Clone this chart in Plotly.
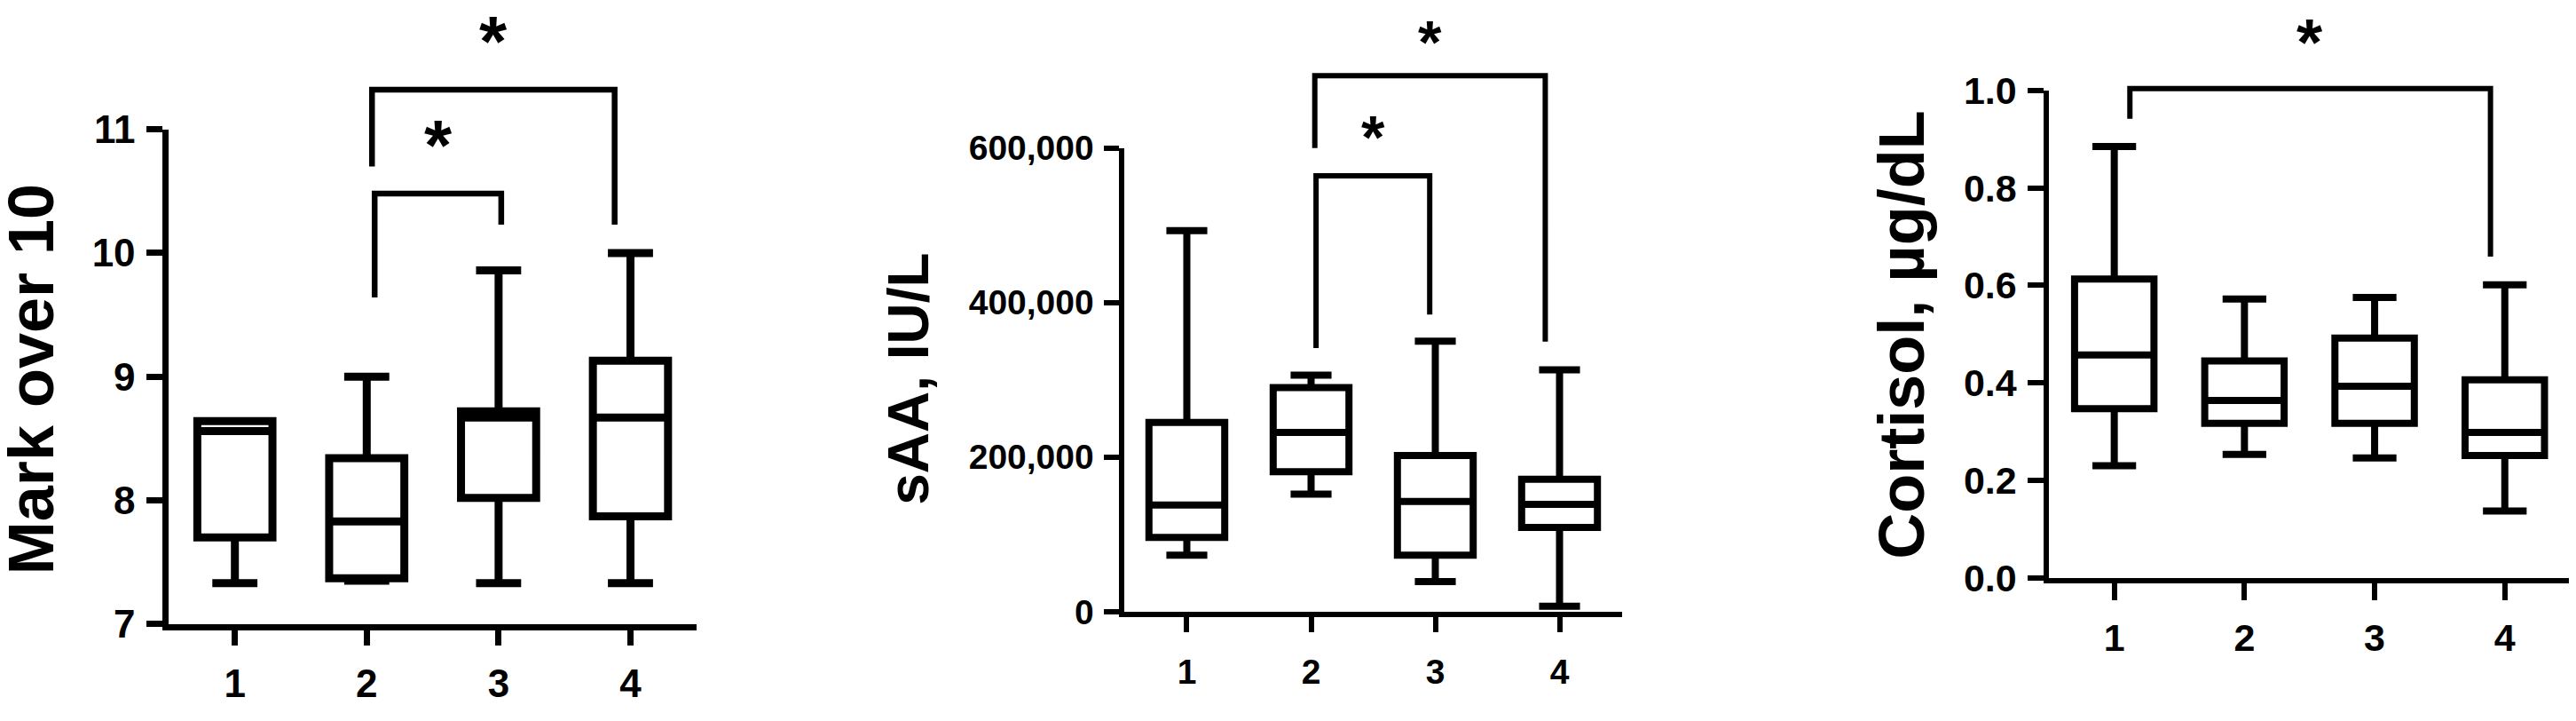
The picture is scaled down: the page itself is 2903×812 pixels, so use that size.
import plotly.graph_objects as go

grupos = [1, 2, 3, 4]

# Painel 1 - Mark over 10 (estatísticas das caixas)
nota_min = [7.33, 7.35, 7.33, 7.33]
nota_q1 = [7.70, 7.37, 8.02, 7.87]
nota_med = [8.56, 7.83, 8.67, 8.67]
nota_q3 = [8.64, 8.34, 8.72, 9.13]
nota_max = [8.64, 9.00, 9.86, 10.00]

# Painel 2 - sAA, IU/L
saa_min = [73000, 152000, 39000, 7000]
saa_q1 = [96000, 181000, 73000, 109000]
saa_med = [138000, 232000, 142500, 139000]
saa_q3 = [245000, 290000, 202000, 171500]
saa_max = [493000, 306000, 350000, 313000]

# Painel 3 - Cortisol, µg/dL
cort_min = [0.230, 0.253, 0.246, 0.137]
cort_q1 = [0.347, 0.317, 0.317, 0.251]
cort_med = [0.457, 0.364, 0.393, 0.298]
cort_q3 = [0.613, 0.445, 0.492, 0.406]
cort_max = [0.885, 0.572, 0.575, 0.601]

# Colchetes de significância: (x esq, x dir, y perna esq, y perna dir, y topo, y estrela)
sig_nota = [(2.04, 3.88, 10.70, 10.23, 11.32, 11.57),
            (2.06, 3.02, 9.64, 10.23, 10.48, 10.73)]
sig_saa = [(2.03, 3.885, 600000, 349600, 693600, 717500),
           (2.04, 2.955, 341000, 384600, 564000, 595000)]
sig_cort = [(1.12, 3.89, 0.942, 0.659, 1.004, 1.067)]

FONTE = "Liberation Sans, Arial, sans-serif"

paineis = [
    dict(stats=(nota_min, nota_q1, nota_med, nota_q3, nota_max), sig=sig_nota,
         titulo="Mark over 10", tit_x=0.0093, tit_y=0.4834, tit_size=72,
         xdom=[0.06283, 0.26758], ydom=[0.12229, 0.85222], yrange=[7, 11], ytop=11.809,
         ytick=[7, 8, 9, 10, 11], yfmt=None, lw=7, boxlw=9, blw=6.5, width=0.57, whisk=0.6,
         font=44, ystand=4, xstand=6, yticklen=18, xticklen=17, star=80),
    dict(stats=(saa_min, saa_q1, saa_med, saa_q3, saa_max), sig=sig_saa,
         titulo="sAA, IU/L", tit_x=0.3502, tit_y=0.4834, tit_size=64,
         xdom=[0.43386, 0.62677], ydom=[0.14039, 0.82475], yrange=[0, 600000], ytop=753644,
         ytick=[0, 200000, 400000, 600000], yfmt=",.0f", lw=6, boxlw=8, blw=6, width=0.61, whisk=0.54,
         font=39, ystand=4, xstand=11, yticklen=17, xticklen=17, star=68),
    dict(stats=(cort_min, cort_q1, cort_med, cort_q3, cort_max), sig=sig_cort,
         titulo="Cortisol, µg/dL", tit_x=0.7354, tit_y=0.5493, tit_size=72,
         xdom=[0.79273, 0.99487], ydom=[0.19052, 0.90973], yrange=[0, 1.0], ytop=1.1255,
         ytick=[0, 0.2, 0.4, 0.6, 0.8, 1.0], yfmt=".1f", lw=6, boxlw=8, blw=6, width=0.61, whisk=0.55,
         font=43, ystand=4, xstand=6, yticklen=18, xticklen=19, star=75),
]

fig = go.Figure()
anotacoes = []
layout_eixos = {}

for i, p in enumerate(paineis, start=1):
    xa = "x" if i == 1 else f"x{i}"
    ya = "y" if i == 1 else f"y{i}"
    yo = f"y{i + 3}"
    mn, q1, md, q3, mx = p["stats"]

    # Caixas
    fig.add_trace(go.Box(
        x=grupos, q1=q1, median=md, q3=q3, lowerfence=mn, upperfence=mx,
        orientation="v", width=p["width"], whiskerwidth=p["whisk"], boxpoints=False,
        line=dict(color="black", width=p["boxlw"]), fillcolor="white",
        xaxis=xa, yaxis=ya, showlegend=False, hoverinfo="skip",
    ))

    # Colchetes e estrelas (eixo y auxiliar que sobe além do eixo visível)
    for xl, xr, yl, yr, yt, ys in p["sig"]:
        fig.add_trace(go.Scatter(
            x=[xl, xl, xr, xr], y=[yl, yt, yt, yr], mode="lines",
            line=dict(color="black", width=p["blw"]),
            xaxis=xa, yaxis=yo, showlegend=False, hoverinfo="skip",
        ))
        anotacoes.append(dict(
            x=(xl + xr) / 2, y=ys, xref=xa, yref=yo, text="*", showarrow=False,
            xanchor="center", yanchor="middle", yshift=int(p["star"] * 0.25),
            font=dict(size=p["star"], color="black", family=FONTE, weight="bold"),
        ))

    # Título do eixo y
    anotacoes.append(dict(
        x=p["tit_x"], y=p["tit_y"], xref="paper", yref="paper", text=p["titulo"],
        textangle=-90, showarrow=False, xanchor="center", yanchor="middle",
        font=dict(size=p["tit_size"], color="black", family=FONTE, weight="bold"),
    ))

    sufixo = "" if i == 1 else str(i)
    layout_eixos["xaxis" + sufixo] = dict(
        domain=p["xdom"], range=[0.5, 4.5], anchor=ya, tickvals=grupos,
        showline=True, linecolor="black", linewidth=p["lw"],
        ticks="outside", ticklen=p["xticklen"], tickwidth=p["lw"], tickcolor="black",
        ticklabelstandoff=p["xstand"], showgrid=False, zeroline=False, fixedrange=True,
        tickfont=dict(size=p["font"], color="black", family=FONTE, weight="bold"),
    )
    layout_eixos["yaxis" + sufixo] = dict(
        domain=p["ydom"], range=p["yrange"], anchor=xa, tickvals=p["ytick"],
        tickformat=p["yfmt"], showline=True, linecolor="black", linewidth=p["lw"],
        ticks="outside", ticklen=p["yticklen"], tickwidth=p["lw"], tickcolor="black",
        ticklabelstandoff=p["ystand"], showgrid=False, zeroline=False, fixedrange=True,
        tickfont=dict(size=p["font"], color="black", family=FONTE, weight="bold"),
    )
    layout_eixos[f"yaxis{i + 3}"] = dict(
        domain=[p["ydom"][0], 1.0], range=[p["yrange"][0], p["ytop"]], anchor=xa,
        visible=False, fixedrange=True,
    )

fig.update_layout(
    width=2903, height=812,
    margin=dict(l=0, r=0, t=0, b=0),
    paper_bgcolor="white", plot_bgcolor="rgba(0,0,0,0)",
    font=dict(family=FONTE, color="black", weight="bold"),
    annotations=anotacoes,
    showlegend=False,
    **layout_eixos,
)

fig.write_html("out.html")
